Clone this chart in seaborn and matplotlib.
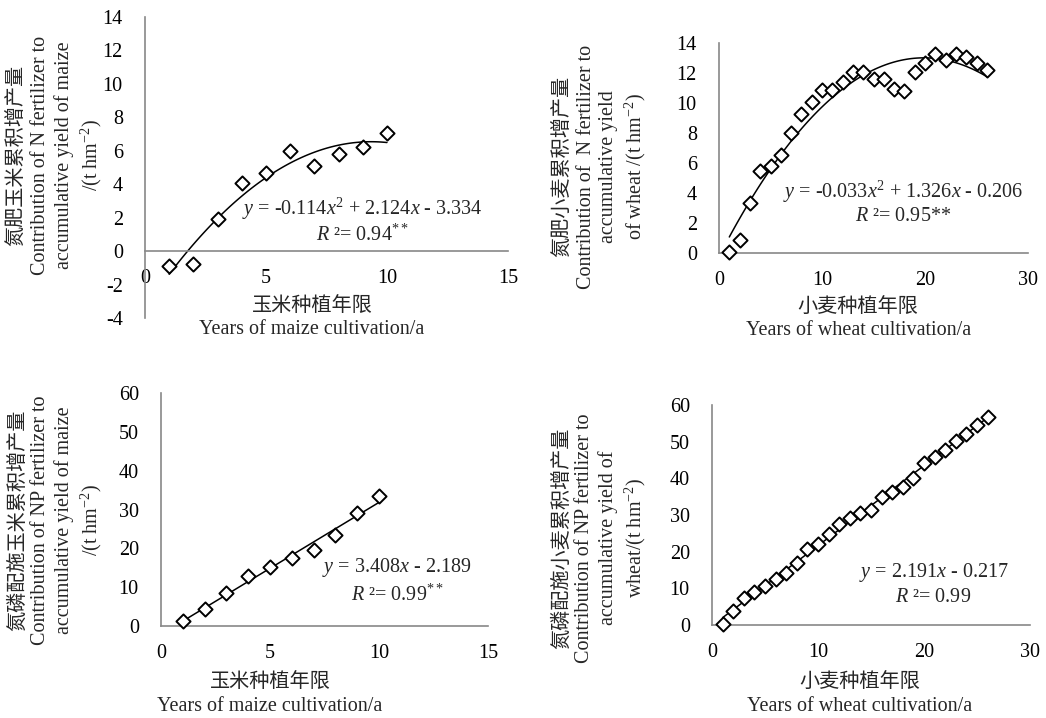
import numpy as np
import pandas as pd
import matplotlib
matplotlib.use("Agg")
import matplotlib.pyplot as plt
import seaborn as sns

# values
maize_years = list(range(1, 11))
wheat_years = list(range(1, 27))

n_maize = [-0.9, -0.75, 1.9, 4.1, 4.65, 6.0, 5.1, 5.8, 6.25, 7.05]
n_wheat = [0.05, 0.9, 3.33, 5.5, 5.8, 6.53, 8.0, 9.3, 10.1, 10.84, 10.9, 11.4, 12.04,
           12.1, 11.6, 11.6, 10.93, 10.8, 12.1, 12.67, 13.24, 12.84, 13.29, 13.07, 12.7, 12.2]
np_maize = [1.3, 4.4, 8.5, 12.8, 15.2, 17.6, 19.7, 23.4, 29.0, 33.6]
np_wheat = [0.3, 3.9, 7.5, 9.1, 10.7, 12.6, 14.1, 17.0, 20.6, 22.0, 24.7, 27.5, 29.1,
            30.6, 31.4, 34.8, 36.3, 37.7, 40.2, 44.3, 45.9, 47.7, 50.3, 52.0, 54.5, 56.6]

eq_text = [r"$y$ = -0.114$x^2$ + 2.124$x$ - 3.334",
           r"$y$ = -0.033$x^2$ + 1.326$x$ - 0.206",
           r"$y$ = 3.408$x$ - 2.189",
           r"$y$ = 2.191$x$ - 0.217"]
r2_text = [r"$R$ ²= 0.94$^{**}$", r"$R$ ²= 0.95**", r"$R$ ²= 0.99$^{**}$", r"$R$ ²= 0.99"]

ylabels = ["氮肥玉米累积增产量\nContribution of N fertilizer to\naccumulative yield of maize\n/(t hm$^{-2}$)",
           "氮肥小麦累积增产量\nContribution of  N fertilizer to\naccumulative yield\nof wheat /(t hm$^{-2}$)",
           "氮磷配施玉米累积增产量\nContribution of NP fertilizer to\naccumulative yield of maize\n/(t hm$^{-2}$)",
           "氮磷配施小麦累积增产量\nContribution of NP fertilizer to\naccumulative yield of\nwheat/(t hm$^{-2}$)"]
xlabels = ["玉米种植年限\nYears of maize cultivation/a",
           "小麦种植年限\nYears of wheat cultivation/a",
           "玉米种植年限\nYears of maize cultivation/a",
           "小麦种植年限\nYears of wheat cultivation/a"]

sns.set_theme(style="white")
plt.rcParams["font.family"] = ["Liberation Serif", "Noto Sans CJK SC"]
plt.rcParams["mathtext.fontset"] = "custom"
plt.rcParams["mathtext.rm"] = "Liberation Serif"
plt.rcParams["mathtext.it"] = "Liberation Serif:italic"
plt.rcParams["axes.unicode_minus"] = False

FS = 14.5
GRAY = "#888888"

fig = plt.figure(figsize=(10.46, 7.18), dpi=100)

panels = [
    dict(rect=[0.1386, 0.5571, 0.347, 0.4192], x=maize_years, y=n_maize, order=2,
         xlim=(0, 15), xt=[0, 5, 10, 15], ylim=(-4, 14), yt=range(-4, 15, 2),
         eq=(9.0, 2.55, 0.95), ylc=(-0.245, 0.54), xlc=(0.46, 0.0)),
    dict(rect=[0.6874, 0.6476, 0.2954, 0.2925], x=wheat_years, y=n_wheat, order=2,
         xlim=(0, 30), xt=[0, 10, 20, 30], ylim=(0, 14), yt=range(0, 15, 2),
         eq=(17.9, 4.1, 2.45), ylc=(-0.382, 0.41), xlc=(0.45, -0.314)),
    dict(rect=[0.1539, 0.1281, 0.3126, 0.3245], x=maize_years, y=np_maize, order=1,
         xlim=(0, 15), xt=[0, 5, 10, 15], ylim=(0, 60), yt=range(0, 61, 10),
         eq=(10.83, 15.0, 7.9), ylc=(-0.321, 0.455), xlc=(0.333, -0.292)),
    dict(rect=[0.6807, 0.1295, 0.304, 0.3064], x=wheat_years, y=np_wheat, order=1,
         xlim=(0, 30), xt=[0, 10, 20, 30], ylim=(0, 60), yt=range(0, 61, 10),
         eq=(20.9, 14.2, 7.4), ylc=(-0.352, 0.395), xlc=(0.465, -0.314)),
]

for i, p in enumerate(panels):
    ax = fig.add_axes(p["rect"])
    df = pd.DataFrame({"x": p["x"], "y": p["y"]})
    sns.regplot(data=df, x="x", y="y", order=p["order"], ci=None, scatter=False,
                truncate=True, color="black", line_kws={"lw": 1.1}, ax=ax)
    sns.scatterplot(data=df, x="x", y="y", marker="D", s=52, facecolor="white",
                    edgecolor="black", linewidth=1.4, ax=ax, zorder=3, clip_on=False)
    ax.set_xlim(*p["xlim"])
    ax.set_ylim(*p["ylim"])
    ax.set_xticks(p["xt"])
    ax.set_yticks(list(p["yt"]))
    for s in ["top", "right"]:
        ax.spines[s].set_visible(False)
    for s in ["left", "bottom"]:
        ax.spines[s].set_color(GRAY)
        ax.spines[s].set_linewidth(1.2)
    if p["ylim"][0] < 0:
        ax.spines["bottom"].set_position(("data", 0))
    ax.tick_params(axis="both", direction="in", length=4, width=1.2, color=GRAY,
                   labelsize=FS, labelcolor="black")
    ax.tick_params(axis="x", pad=13)
    ax.tick_params(axis="y", pad=16)
    ax.set_ylabel(ylabels[i], fontsize=FS, va="center", ha="center", linespacing=1.25)
    ax.yaxis.set_label_coords(*p["ylc"])
    ax.set_xlabel(xlabels[i], fontsize=FS, va="center", linespacing=1.35)
    ax.xaxis.set_label_coords(*p["xlc"])
    ex, ey, ry = p["eq"]
    ax.text(ex, ey, eq_text[i], fontsize=FS, ha="center", va="center")
    ax.text(ex, ry, r2_text[i], fontsize=FS, ha="center", va="center")

fig.savefig("out.png", dpi=100)
